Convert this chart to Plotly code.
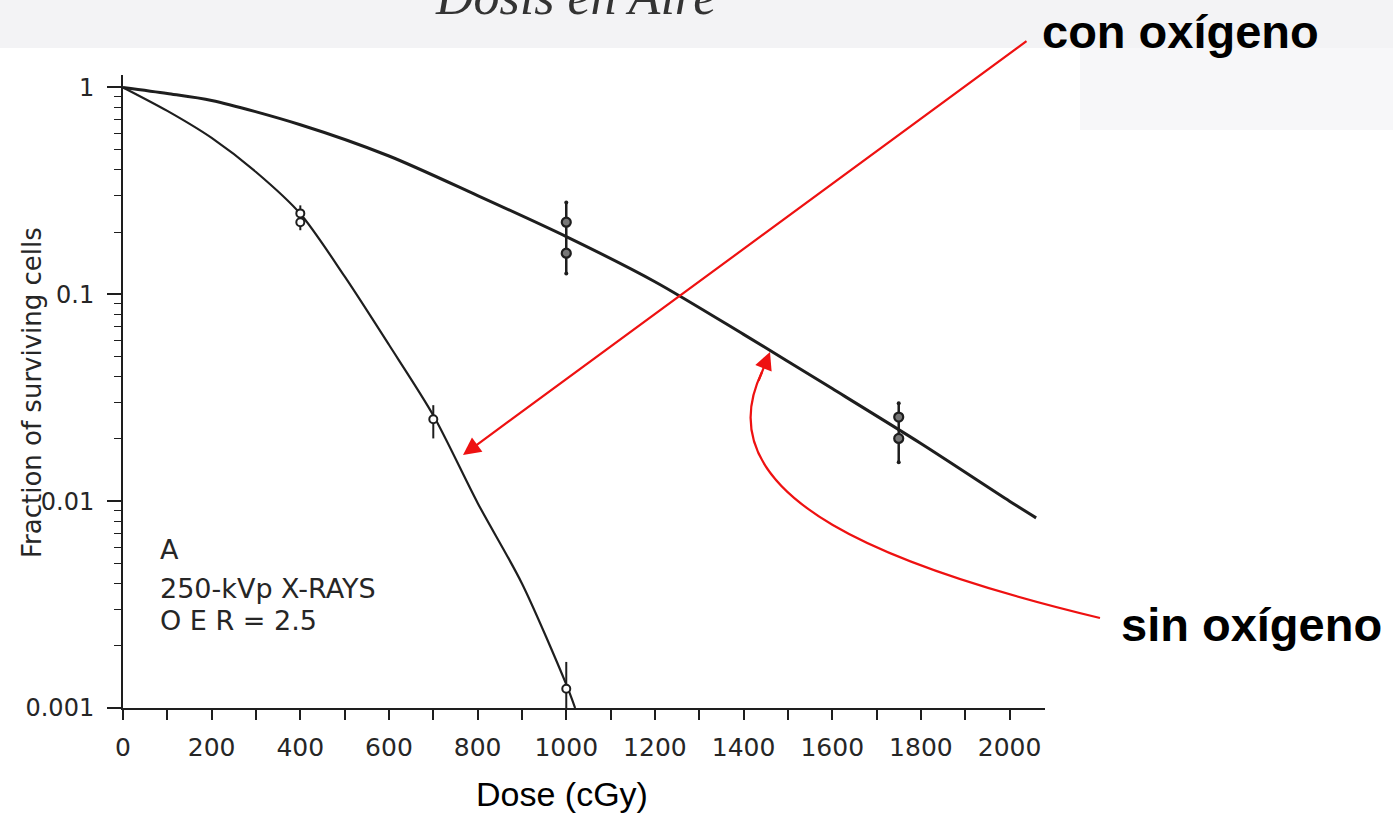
import plotly.graph_objects as go

W, H = 1393, 815

# ---- data ----
# smooth survival curves (dose in cGy, surviving fraction)
aer_curve_dose = [0, 100, 200, 300, 400, 500, 600, 700, 800, 900, 1000, 1020]
aer_curve_frac = [1.0, 0.77, 0.57, 0.39, 0.245, 0.122, 0.057, 0.026, 0.0098, 0.0040,
                  0.0013, 0.001]
hyp_curve_dose = [0, 100, 200, 400, 600, 800, 1000, 1200, 1400, 1600, 1800, 2000, 2060]
hyp_curve_frac = [1.0, 0.935, 0.865, 0.66, 0.466, 0.30, 0.19, 0.115, 0.064, 0.035, 0.019,
                  0.0100, 0.0083]

# measured points
aer_pt_dose = [400, 400, 700, 1000]
aer_pt_frac = [0.246, 0.223, 0.0249, 0.00124]
hyp_pt_dose = [1000, 1000, 1750, 1750]
hyp_pt_frac = [0.223, 0.158, 0.0255, 0.0201]

# error bars
aer_bar_dose = [400, 700, 1000]
aer_bar_lo = [0.204, 0.0201, 0.001]
aer_bar_hi = [0.269, 0.0291, 0.00167]
hyp_bar_dose = [1000, 1750]
hyp_bar_lo = [0.126, 0.0154]
hyp_bar_hi = [0.278, 0.0297]

x_ticks = list(range(0, 2001, 200))
y_ticks = [0.001, 0.01, 0.1, 1]
y_ticktext = ["0.001", "0.01", "0.1", "1"]
y_minor = [m * 10 ** e for e in (-3, -2, -1) for m in range(2, 10)]

INK = "#1e1e1e"
RED = "#ee1111"
SCAN = "DejaVu Sans"


def px(x):
    return x / W


def py(y):
    return 1 - y / H


def bars(d, lo, hi):
    xs, ys = [], []
    for a, b, c in zip(d, lo, hi):
        xs += [a, a, None]
        ys += [b, c, None]
    return xs, ys


fig = go.Figure()

fig.add_trace(go.Scatter(x=hyp_curve_dose, y=hyp_curve_frac, mode="lines",
                         line=dict(color=INK, width=3, shape="spline", smoothing=0.8),
                         hoverinfo="skip"))
fig.add_trace(go.Scatter(x=aer_curve_dose, y=aer_curve_frac, mode="lines",
                         line=dict(color=INK, width=2.2, shape="spline", smoothing=0.8),
                         hoverinfo="skip"))

bx, by = bars(aer_bar_dose, aer_bar_lo, aer_bar_hi)
fig.add_trace(go.Scatter(x=bx, y=by, mode="lines", line=dict(color=INK, width=2)))
bx, by = bars(hyp_bar_dose, hyp_bar_lo, hyp_bar_hi)
fig.add_trace(go.Scatter(x=bx, y=by, mode="lines+markers", line=dict(color=INK, width=2.5),
                         marker=dict(size=4, color=INK)))

fig.add_trace(go.Scatter(x=aer_pt_dose, y=aer_pt_frac, mode="markers",
                         marker=dict(symbol="circle", size=8, color="white",
                                     line=dict(color=INK, width=2))))
fig.add_trace(go.Scatter(x=hyp_pt_dose, y=hyp_pt_frac, mode="markers",
                         marker=dict(symbol="circle", size=9, color="#777",
                                     line=dict(color=INK, width=2.2))))

shapes = [
    dict(type="rect", xref="paper", yref="paper", x0=0, x1=1, y0=py(48), y1=1,
         fillcolor="#f3f3f5", line=dict(width=0), layer="below"),
    dict(type="rect", xref="paper", yref="paper", x0=px(1080), x1=1, y0=py(130), y1=py(48),
         fillcolor="#f7f7f9", line=dict(width=0), layer="below"),
    dict(type="path", xref="paper", yref="paper",
         path=(f"M {px(1100)} {py(618)} C {px(900)} {py(570)}, {px(700)} {py(500)}, "
               f"{px(762)} {py(372)}"),
         line=dict(color=RED, width=2.2)),
]


def label(text, x, y, size, family=SCAN, color="#262626", xanchor="center", **kw):
    return dict(text=text, xref="paper", yref="paper", x=px(x), y=py(y),
                xanchor=xanchor, yanchor="middle", showarrow=False,
                font=dict(family=family, size=size, color=color), **kw)


annotations = [
    dict(text="Dosis en Aire", xref="paper", yref="paper", x=px(575), y=py(-4),
         xanchor="center", yanchor="middle", showarrow=False,
         font=dict(family="Liberation Serif", size=52, color="#333", style="italic")),
    label("<b>con oxígeno</b>", 1180, 31, 47, family="Liberation Sans", color="#000"),
    label("<b>sin oxígeno</b>", 1251, 624, 47, family="Liberation Sans", color="#000"),
    label("Dose (cGy)", 562, 794, 34, family="Liberation Sans", color="#000"),
    label("Fraction of surviving cells", 32, 393, 26, textangle=-90),
    label("A", 158, 549, 27, xanchor="left"),
    label("250-kVp X-RAYS", 158, 588, 27, xanchor="left"),
    label("O E R = 2.5", 158, 620, 27, xanchor="left"),
    # straight arrow to the aerated curve
    dict(text="", xref="paper", yref="paper", x=px(463), y=py(455), ax=1028 - 463,
         ay=40 - 455, showarrow=True, arrowhead=2, arrowsize=1.6, arrowwidth=2.2,
         arrowcolor=RED, standoff=0),
    # arrow head of the curved arrow
    dict(text="", xref="paper", yref="paper", x=px(770), y=py(352), ax=-12, ay=30,
         showarrow=True, arrowhead=2, arrowsize=1.6, arrowwidth=2.2,
         arrowcolor=RED, standoff=0),
]

fig.update_layout(
    width=W, height=H, margin=dict(l=0, r=0, t=0, b=0, autoexpand=False),
    paper_bgcolor="white", plot_bgcolor="white", showlegend=False,
    shapes=shapes, annotations=annotations,
    xaxis=dict(domain=[px(123), px(1045)], range=[0, 2080], tickvals=x_ticks,
               automargin=False,
               ticks="outside", ticklen=10, tickwidth=1.6, tickcolor=INK,
               showline=True, linecolor=INK, linewidth=2, showgrid=False, zeroline=False,
               tickfont=dict(family=SCAN, size=25, color="#262626"), ticklabelstandoff=6,
               minor=dict(dtick=100, tick0=0, ticks="outside", ticklen=10, tickwidth=1.6,
                          tickcolor=INK, showgrid=False)),
    yaxis=dict(type="log", domain=[py(708), py(75)], range=[-3, 0.06],
               automargin=False,
               tickvals=y_ticks, ticktext=y_ticktext,
               ticks="outside", ticklen=14, tickwidth=1.6, tickcolor=INK,
               showline=True, linecolor=INK, linewidth=2, showgrid=False, zeroline=False,
               tickfont=dict(family=SCAN, size=24, color="#262626"), ticklabelstandoff=8,
               minor=dict(tickvals=y_minor, ticks="outside", ticklen=7, tickwidth=1.4,
                          tickcolor=INK, showgrid=False)),
)

fig.write_html(
    "out.html",
    config={"displayModeBar": False},
    post_script="document.body.style.margin='0';document.body.style.overflow='hidden';",
)
